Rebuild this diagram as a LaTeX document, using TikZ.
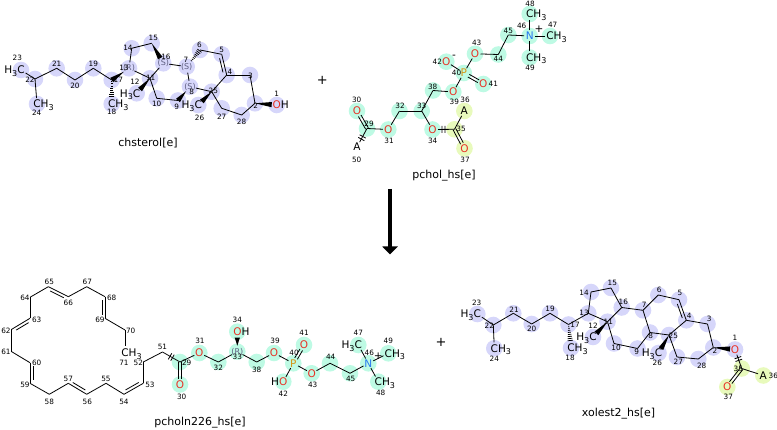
\documentclass[tikz,border=0pt]{standalone}
\usepackage{fontspec}
\setmainfont{DejaVu Sans}
\usetikzlibrary{calc,arrows.meta}
\definecolor{lav}{RGB}{214,214,250}
\definecolor{cyn}{RGB}{190,250,228}
\definecolor{ylg}{RGB}{232,250,188}
\definecolor{ored}{RGB}{232,48,36}
\definecolor{nblu}{RGB}{40,120,240}
\definecolor{porg}{RGB}{214,150,20}
\definecolor{stc}{RGB}{95,95,130}
\newcommand{\msub}[1]{\raisebox{-2.5pt}{\fontsize{8}{8}\selectfont #1}}
\newcommand{\mA}[3]{\coordinate (#1) at (#2,#3);}
\newcommand{\mC}[2]{\fill[#1] (#2) circle (8.3pt);}
\newcommand{\mB}[4]{\draw[bd,shorten <=#3pt,shorten >=#4pt] (#1) -- (#2);}
\newcommand{\mD}[4]{%
 \draw[bd,shorten <=#3pt,shorten >=#4pt] ($(#1)!1.5pt!90:(#2)$) -- ($(#2)!1.5pt!-90:(#1)$);
 \draw[bd,shorten <=#3pt,shorten >=#4pt] ($(#1)!1.5pt!-90:(#2)$) -- ($(#2)!1.5pt!90:(#1)$);}
\newcommand{\mDin}[3]{%
 \draw[bd] ($(#1)!0.16!(#2)!3pt!#3:(#2)$) -- ($(#2)!0.16!(#1)!3pt!#3:(#2)$);}
\newcommand{\mW}[4]{%
 \fill ($(#1)!#3pt!(#2)$) -- ($(#2)!#4pt!(#1)!2.6pt!90:(#1)$) -- ($(#2)!#4pt!(#1)!2.6pt!-90:(#1)$) -- cycle;}
\newcommand{\mHS}[4]{%
 \coordinate (hsA) at ($(#1)!#3pt!(#2)$);
 \coordinate (hsE) at ($(#2)!#4pt!(#1)$);
 \foreach \hh in {0.1,0.22,0.34,0.46,0.58,0.7,0.82,0.94}{%
  \pgfmathsetmacro{\ww}{0.3+2.5*\hh}%
  \draw[line width=0.75pt] ($(hsA)!\hh!(hsE)!\ww pt!90:(hsE)$) -- ($(hsA)!\hh!(hsE)!\ww pt!-90:(hsE)$);}}
\newcommand{\mBRK}[2]{%
 \draw[bd] ($(#1)!0.43!(#2)!3.5pt!90:(#2)$) -- ($(#1)!0.43!(#2)!3.5pt!-90:(#2)$);
 \draw[bd] ($(#1)!0.57!(#2)!3.5pt!90:(#2)$) -- ($(#1)!0.57!(#2)!3.5pt!-90:(#2)$);}
\newcommand{\mCH}[2]{\node[el,anchor=base west] (#1) at ($(#2)+(-3.8,3.9)$) {CH\msub{3}};}
\newcommand{\mHC}[2]{\node[el,anchor=base east] (#1) at ($(#2)+(3.8,3.9)$) {H\msub{3}C};}
\newcommand{\mOH}[2]{\node[el,anchor=base west] (#1) at ($(#2)+(-4.2,3.9)$) {\textcolor{ored}{O}H};}
\newcommand{\mHO}[2]{\node[el,anchor=base east] (#1) at ($(#2)+(4.2,3.9)$) {H\textcolor{ored}{O}};}
\newcommand{\mEL}[4]{\node[el,anchor=base,text=#3] (#1) at ($(#2)+(0,3.9)$) {#4};}
\newcommand{\mN}[4]{\node[num] (#1) at (#2,#3) {#4};}
\newcommand{\mST}[3]{\node[stl] (#1) at (#2) {#3};}
\begin{document}
\begin{tikzpicture}[x=1pt,y=-1pt,
  bd/.style={line width=0.8pt,black},
  el/.style={inner sep=0pt,font=\fontsize{10.5}{12}\selectfont},
  num/.style={inner sep=0pt,font=\fontsize{7.3}{8}\selectfont},
  stl/.style={inner sep=0pt,font=\fontsize{8}{9}\selectfont,text=stc},
  nm/.style={inner sep=0pt,font=\fontsize{11}{12}\selectfont}]
\useasboundingbox (0,0) rectangle (777,430);
% ================= chsterol =================
\mA{c23}{21}{70}\mA{c22}{35}{79}\mA{c24}{37}{104}\mA{c21}{56.7}{68.3}
\mA{c20}{75}{80}\mA{c19}{93.3}{68.3}\mA{c17}{111.7}{80}\mA{c18}{111.7}{104}
\mA{c13}{129}{68.3}\mA{c14}{131.7}{48.3}\mA{c15}{151.7}{43.3}\mA{c16}{163.3}{63.3}
\mA{c11}{150}{78.3}\mA{c12}{136.7}{93.3}\mA{c10}{156.7}{98.3}\mA{c9}{178}{100.5}
\mA{c8}{190}{86.7}\mA{c7}{186.7}{66.7}\mA{c6}{200}{50}\mA{c5}{221.7}{54.3}
\mA{c4}{226.7}{75}\mA{c25}{211.7}{91.7}\mA{c26}{198.3}{105}\mA{c27}{221.7}{108.3}
\mA{c28}{241.7}{115}\mA{c2}{255}{103.3}\mA{c3}{250}{75}\mA{c1}{276.7}{105}
\foreach \a in {c1,c2,c3,c4,c5,c6,c7,c8,c9,c10,c11,c12,c13,c14,c15,c16,c17,c18,c19,c20,c21,c22,c23,c24,c25,c26,c27,c28}{\mC{lav}{\a}}
% ================= xolest2 =================
\mA{x23}{477.3}{314}\mA{x22}{493.3}{325}\mA{x24}{494.3}{348.3}\mA{x21}{513.3}{313.3}
\mA{x20}{531.7}{324}\mA{x19}{550}{313.3}\mA{x17}{568.5}{324.5}\mA{x18}{571}{348}
\mA{x13}{588.3}{313.3}\mA{x14}{591}{292}\mA{x15}{611}{288}\mA{x16}{621.7}{307.5}
\mA{x11}{607.5}{321.7}\mA{x12}{593}{337}\mA{x10}{614}{343.5}\mA{x9}{637.5}{348.5}
\mA{x8}{650}{332.5}\mA{x7}{643}{310.3}\mA{x6}{658.3}{295}\mA{x5}{679}{299.7}
\mA{x4}{686.3}{320.3}\mA{x25}{669}{335}\mA{x26}{658.5}{353}\mA{x27}{677}{357}
\mA{x28}{698.3}{359}\mA{x2}{713.3}{347.5}\mA{x3}{707.5}{324}\mA{x1}{735}{349.5}
\mA{x35}{741.7}{368.5}\mA{x36}{763.3}{375.5}\mA{x37}{727.3}{387}
\foreach \a in {x1,x2,x3,x4,x5,x6,x7,x8,x9,x10,x11,x12,x13,x14,x15,x16,x17,x18,x19,x20,x21,x22,x23,x24,x25,x26,x27,x28}{\mC{lav}{\a}}
\foreach \a in {x35,x36,x37}{\mC{ylg}{\a}}
% ================= pchol =================
\mA{p30}{357}{111}\mA{p29}{367}{128.5}\mA{p50}{357}{147}\mA{p31}{388.3}{129.5}
\mA{p32}{399.5}{111}\mA{p33}{421.7}{111}\mA{p38}{433}{90.5}\mA{p39}{453.3}{92}
\mA{p40}{463.8}{73}\mA{p41}{483.3}{84}\mA{p42}{446.3}{61.7}\mA{p43}{475}{53.8}
\mA{p44}{498.3}{54.5}\mA{p45}{508.3}{35}\mA{p46}{529.7}{36}\mA{p47}{550}{36}
\mA{p48}{529.7}{14}\mA{p49}{529.7}{57.5}\mA{p34}{432.5}{129.5}\mA{p35}{454.5}{129.3}
\mA{p36}{464.3}{111}\mA{p37}{464.5}{148.3}
\foreach \a in {p29,p30,p31,p32,p33,p34,p38,p39,p40,p41,p42,p43,p44,p45,p46,p47,p48,p49}{\mC{cyn}{\a}}
\foreach \a in {p35,p36,p37}{\mC{ylg}{\a}}
% ================= pcholn226 =================
\mA{q65}{48.3}{286.7}\mA{q66}{68.3}{296.7}\mA{q67}{86.7}{286.7}\mA{q68}{105}{296.7}
\mA{q69}{105}{318.3}\mA{q70}{125}{330}\mA{q71}{125}{353}\mA{q64}{30}{297.3}
\mA{q63}{30}{318.3}\mA{q62}{11.7}{329.3}\mA{q61}{11.7}{351.7}\mA{q60}{30}{362.7}
\mA{q59}{30}{383.3}\mA{q58}{49.3}{394.3}\mA{q57}{68.3}{383.3}\mA{q56}{86.7}{394.3}
\mA{q55}{106}{383.3}\mA{q54}{124}{394.3}\mA{q53}{143.3}{383.3}\mA{q52}{143.3}{362}
\mA{q51}{162.5}{352}\mA{q29}{180}{362}\mA{q30}{180}{384.5}\mA{q31}{199.3}{353}
\mA{q32}{218.3}{362}\mA{q33}{237.3}{351.7}\mA{q34}{237.3}{331.7}\mA{q38}{256.7}{362}
\mA{q39}{274}{353}\mA{q40}{293.3}{363.3}\mA{q41}{304}{345}\mA{q42}{283.3}{381.7}
\mA{q43}{311.7}{373.3}\mA{q44}{330}{363.3}\mA{q45}{350}{373.3}\mA{q46}{368.3}{363.3}
\mA{q47}{358.3}{345}\mA{q48}{378.3}{381.7}\mA{q49}{388.3}{353.3}
\foreach \a in {q29,q30,q31,q32,q33,q34,q38,q39,q40,q41,q42,q43,q44,q45,q46,q47,q48,q49}{\mC{cyn}{\a}}
% ================= bonds: chsterol =================
\mB{c23}{c22}{5.5}{0}\mB{c22}{c24}{0}{6}\mB{c22}{c21}{0}{0}\mB{c21}{c20}{0}{0}
\mB{c20}{c19}{0}{0}\mB{c19}{c17}{0}{0}\mW{c13}{c17}{6}{0}\mHS{c17}{c18}{0}{6.5}
\mB{c13}{c14}{6}{0}\mB{c14}{c15}{0}{0}\mW{c15}{c16}{0}{6}\mB{c16}{c11}{6}{0}
\mB{c11}{c13}{0}{6}\mW{c11}{c12}{0}{5}\mB{c11}{c10}{0}{0}\mB{c10}{c9}{0}{0}
\mW{c8}{c9}{6}{0}\mB{c8}{c7}{6}{6}\mB{c7}{c16}{6}{6}\mHS{c7}{c6}{6}{0}
\mB{c6}{c5}{0}{0}\mB{c5}{c4}{0}{0}\mDin{c5}{c4}{-90}\mB{c4}{c25}{0}{0}
\mB{c25}{c8}{0}{6}\mW{c25}{c26}{0}{5}\mB{c25}{c27}{0}{0}\mB{c27}{c28}{0}{0}
\mB{c28}{c2}{0}{0}\mB{c2}{c3}{0}{0}\mB{c3}{c4}{0}{0}\mW{c2}{c1}{0}{5}
% ================= bonds: xolest2 =================
\mB{x23}{x22}{5.5}{0}\mB{x22}{x24}{0}{6}\mB{x22}{x21}{0}{0}\mB{x21}{x20}{0}{0}
\mB{x20}{x19}{0}{0}\mB{x19}{x17}{0}{0}\mB{x17}{x13}{0}{0}\mHS{x17}{x18}{0}{6.5}
\mB{x13}{x14}{0}{0}\mB{x14}{x15}{0}{0}\mB{x15}{x16}{0}{0}\mB{x16}{x11}{0}{0}
\mB{x11}{x13}{0}{0}\mW{x11}{x12}{0}{5}\mB{x11}{x10}{0}{0}\mB{x10}{x9}{0}{0}
\mB{x9}{x8}{0}{0}\mB{x8}{x7}{0}{0}\mB{x7}{x16}{0}{0}\mB{x7}{x6}{0}{0}
\mB{x6}{x5}{0}{0}\mB{x5}{x4}{0}{0}\mDin{x5}{x4}{-90}\mB{x4}{x25}{0}{0}
\mB{x25}{x8}{0}{0}\mW{x25}{x26}{0}{5}\mB{x25}{x27}{0}{0}\mB{x27}{x28}{0}{0}
\mB{x28}{x2}{0}{0}\mB{x2}{x3}{0}{0}\mB{x3}{x4}{0}{0}\mW{x2}{x1}{0}{5}
\mB{x1}{x35}{5.5}{0}\mBRK{x1}{x35}\mB{x35}{x36}{0}{5.5}\mD{x35}{x37}{0}{5.5}
% ================= bonds: pchol =================
\mD{p29}{p30}{0}{5.5}\mB{p29}{p50}{0}{5.5}\mBRK{p29}{p50}\mB{p29}{p31}{0}{5.5}
\mB{p31}{p32}{5.5}{0}\mB{p32}{p33}{0}{0}\mB{p33}{p38}{0}{0}\mB{p38}{p39}{0}{5.5}
\mB{p39}{p40}{5.5}{5.5}\mD{p40}{p41}{5.5}{5.5}\mB{p40}{p42}{5.5}{5.5}\mB{p40}{p43}{5.5}{5.5}
\mB{p43}{p44}{5.5}{0}\mB{p44}{p45}{0}{0}\mB{p45}{p46}{0}{5.5}\mB{p46}{p47}{5.5}{5.5}
\mB{p46}{p48}{5.5}{6.5}\mB{p46}{p49}{5.5}{6.5}\mB{p33}{p34}{0}{5.5}
\mB{p34}{p35}{5.5}{0}\mBRK{p34}{p35}\mB{p35}{p36}{0}{5.5}\mD{p35}{p37}{0}{5.5}
% ================= bonds: pcholn226 =================
\mB{q64}{q65}{0}{0}\mB{q65}{q66}{0}{0}\mDin{q65}{q66}{-90}\mB{q66}{q67}{0}{0}
\mB{q67}{q68}{0}{0}\mB{q68}{q69}{0}{0}\mDin{q68}{q69}{-90}\mB{q69}{q70}{0}{0}
\mB{q70}{q71}{0}{6.5}\mB{q64}{q63}{0}{0}\mB{q63}{q62}{0}{0}\mDin{q63}{q62}{90}
\mB{q62}{q61}{0}{0}\mB{q61}{q60}{0}{0}\mB{q60}{q59}{0}{0}\mDin{q60}{q59}{90}
\mB{q59}{q58}{0}{0}\mB{q58}{q57}{0}{0}\mB{q57}{q56}{0}{0}\mDin{q57}{q56}{90}
\mB{q56}{q55}{0}{0}\mB{q55}{q54}{0}{0}\mB{q54}{q53}{0}{0}\mDin{q54}{q53}{90}
\mB{q53}{q52}{0}{0}\mB{q52}{q51}{0}{0}\mB{q51}{q29}{0}{0}\mBRK{q51}{q29}
\mD{q29}{q30}{0}{5.5}\mB{q29}{q31}{0}{5.5}\mB{q31}{q32}{5.5}{0}\mB{q32}{q33}{0}{6}
\mW{q33}{q34}{6}{6}\mB{q33}{q38}{6}{0}\mB{q38}{q39}{0}{5.5}\mB{q39}{q40}{5.5}{5.5}
\mD{q40}{q41}{5.5}{5.5}\mB{q40}{q42}{5.5}{5.5}\mB{q40}{q43}{5.5}{5.5}\mB{q43}{q44}{5.5}{0}
\mB{q44}{q45}{0}{0}\mB{q45}{q46}{0}{5.5}\mB{q46}{q47}{5.5}{5.5}\mB{q46}{q48}{5.5}{6}
\mB{q46}{q49}{5.5}{5.5}
% ================= atom labels =================
\mHC{Lc23}{c23}\mCH{Lc24}{c24}\mCH{Lc18}{c18}\mHC{Lc12}{c12}\mHC{Lc26}{c26}\mOH{Lc1}{c1}
\mST{Sc13}{c13}{(R)}\mST{Sc16}{c16}{(S)}\mST{Sc7}{c7}{(S)}\mST{Sc8}{c8}{(S)}
\mHC{Lx23}{x23}\mCH{Lx24}{x24}\mCH{Lx18}{x18}\mHC{Lx12}{x12}\mHC{Lx26}{x26}
\mEL{Lx1}{x1}{ored}{O}\mEL{Lx36}{x36}{black}{A}\mEL{Lx37}{x37}{ored}{O}
\mEL{Lp30}{p30}{ored}{O}\mEL{Lp50}{p50}{black}{A}\mEL{Lp31}{p31}{ored}{O}
\mEL{Lp39}{p39}{ored}{O}\mEL{Lp40}{p40}{porg}{P}\mEL{Lp41}{p41}{ored}{O}
\mEL{Lp42}{p42}{ored}{O}\mEL{Lp43}{p43}{ored}{O}\mEL{Lp46}{p46}{nblu}{N}
\mCH{Lp47}{p47}\mCH{Lp48}{p48}\mCH{Lp49}{p49}\mEL{Lp34}{p34}{ored}{O}
\mEL{Lp36}{p36}{black}{A}\mEL{Lp37}{p37}{ored}{O}
\node[el] (chg1) at (454,56.5) {-};
\node[el] (chg2) at (539,29.3) {+};
\mCH{Lq71}{q71}\mEL{Lq30}{q30}{ored}{O}\mEL{Lq31}{q31}{ored}{O}\mOH{Lq34}{q34}
\mEL{Lq39}{q39}{ored}{O}\mEL{Lq40}{q40}{porg}{P}\mEL{Lq41}{q41}{ored}{O}
\mHO{Lq42}{q42}\mEL{Lq43}{q43}{ored}{O}\mEL{Lq46}{q46}{nblu}{N}
\mHC{Lq47}{q47}\mCH{Lq48}{q48}\mCH{Lq49}{q49}\mST{Sq33}{q33}{(R)}
\node[el] (chg3) at (378.3,356.7) {+};
% ================= numbers: chsterol =================
\mN{Nc23}{17.3}{58.3}{23}\mN{Nc22}{30}{80}{22}\mN{Nc24}{36.7}{112.3}{24}\mN{Nc21}{56.7}{64}{21}
\mN{Nc20}{75}{85.5}{20}\mN{Nc19}{93.3}{64}{19}\mN{Nc17}{118.3}{80}{17}\mN{Nc18}{111.7}{112.3}{18}
\mN{Nc13}{124}{68.3}{13}\mN{Nc14}{128}{48}{14}\mN{Nc15}{153.3}{38}{15}\mN{Nc16}{166}{57.3}{16}
\mN{Nc11}{150.7}{78}{11}\mN{Nc12}{135}{81.7}{12}\mN{Nc10}{156.7}{104}{10}\mN{Nc9}{176.7}{107}{9}
\mN{Nc8}{191.7}{91.7}{8}\mN{Nc7}{186}{60}{7}\mN{Nc6}{199.5}{45}{6}\mN{Nc5}{221.7}{50}{5}
\mN{Nc4}{230}{71.5}{4}\mN{Nc25}{213.3}{91}{25}\mN{Nc26}{199.5}{118.3}{26}\mN{Nc27}{221.7}{117}{27}
\mN{Nc28}{241.5}{122}{28}\mN{Nc2}{255.7}{105.7}{2}\mN{Nc3}{250.5}{75.5}{3}\mN{Nc1}{276.7}{94}{1}
% ================= numbers: xolest2 =================
\mN{Nx23}{476.7}{303.3}{23}\mN{Nx22}{489.3}{326}{22}\mN{Nx24}{494.3}{358.3}{24}\mN{Nx21}{514}{309.3}{21}
\mN{Nx20}{531.7}{329.3}{20}\mN{Nx19}{550}{309.3}{19}\mN{Nx17}{575}{325}{17}\mN{Nx18}{570}{358.3}{18}
\mN{Nx13}{584}{313.3}{13}\mN{Nx14}{584}{292.7}{14}\mN{Nx15}{612.3}{283.3}{15}\mN{Nx16}{623.3}{301.7}{16}
\mN{Nx11}{608.3}{321.7}{11}\mN{Nx12}{593}{326}{12}\mN{Nx10}{616}{348.3}{10}\mN{Nx9}{636.7}{351.7}{9}
\mN{Nx8}{650.7}{336}{8}\mN{Nx7}{644.3}{305}{7}\mN{Nx6}{659.3}{290}{6}\mN{Nx5}{680}{293.3}{5}
\mN{Nx4}{689.3}{316}{4}\mN{Nx25}{673.3}{336}{25}\mN{Nx26}{657.3}{363.3}{26}\mN{Nx27}{678.3}{361.7}{27}
\mN{Nx28}{701.7}{366}{28}\mN{Nx2}{715}{350.7}{2}\mN{Nx3}{709.3}{319.3}{3}\mN{Nx1}{735}{338.3}{1}
\mN{Nx35}{738.3}{369}{35}\mN{Nx36}{773.3}{375.5}{36}\mN{Nx37}{728.3}{396.7}{37}
% ================= numbers: pchol =================
\mN{Np30}{356.7}{100}{30}\mN{Np29}{369}{124}{29}\mN{Np31}{389}{140.5}{31}\mN{Np32}{400}{106}{32}
\mN{Np33}{421.7}{105.5}{33}\mN{Np38}{432.7}{86.5}{38}\mN{Np39}{454.3}{101.5}{39}\mN{Np36}{465}{100}{36}
\mN{Np35}{461}{129.3}{35}\mN{Np34}{432.7}{140.5}{34}\mN{Np37}{465}{159.5}{37}\mN{Np50}{356.7}{159.5}{50}
\mN{Np40}{456.5}{73}{40}\mN{Np41}{493.3}{84}{41}\mN{Np42}{437.3}{61.7}{42}\mN{Np43}{476.7}{43.3}{43}
\mN{Np44}{498.3}{59.3}{44}\mN{Np45}{508.3}{30.7}{45}\mN{Np46}{521.7}{26}{46}\mN{Np47}{552.7}{25}{47}
\mN{Np48}{530}{3.5}{48}\mN{Np49}{530}{68.3}{49}
% ================= numbers: pcholn226 =================
\mN{Nq65}{49.3}{281.7}{65}\mN{Nq66}{68.3}{302.7}{66}\mN{Nq67}{87.3}{281.7}{67}\mN{Nq68}{111.7}{298.3}{68}
\mN{Nq69}{100}{320}{69}\mN{Nq70}{130.7}{330.7}{70}\mN{Nq71}{124}{363.3}{71}\mN{Nq64}{25}{298.3}{64}
\mN{Nq63}{36.7}{320}{63}\mN{Nq62}{6}{330.7}{62}\mN{Nq61}{6}{352.3}{61}\mN{Nq60}{36.7}{363.3}{60}
\mN{Nq59}{25}{385.3}{59}\mN{Nq58}{49.3}{401.7}{58}\mN{Nq57}{68.3}{379.3}{57}\mN{Nq56}{87.3}{401.7}{56}
\mN{Nq55}{106}{379.3}{55}\mN{Nq54}{124}{401.7}{54}\mN{Nq53}{150}{385.3}{53}\mN{Nq52}{138.3}{363.3}{52}
\mN{Nq51}{162.5}{346.7}{51}\mN{Nq29}{186.7}{363.3}{29}\mN{Nq30}{181.7}{396.7}{30}\mN{Nq31}{200}{340.7}{31}
\mN{Nq32}{218.3}{368.3}{32}\mN{Nq33}{237.3}{357.3}{33}\mN{Nq34}{237.3}{320}{34}\mN{Nq38}{256.7}{370}{38}
\mN{Nq39}{275}{340.7}{39}\mN{Nq40}{294}{353.3}{40}\mN{Nq41}{304}{333.3}{41}\mN{Nq42}{283.3}{394}{42}
\mN{Nq43}{312.7}{385}{43}\mN{Nq44}{330.7}{356.7}{44}\mN{Nq45}{350.7}{379.3}{45}\mN{Nq46}{369.3}{352.7}{46}
\mN{Nq47}{358.3}{333.3}{47}\mN{Nq48}{380.7}{393.3}{48}\mN{Nq49}{388.3}{340.7}{49}
% ================= names, plus signs, arrow =================
\node[nm] (name1) at (148,143) {chsterol[e]};
\node[nm] (name2) at (444,176) {pchol\_hs[e]};
\node[nm] (name3) at (200,423) {pcholn226\_hs[e]};
\node[nm] (name4) at (618.5,414) {xolest2\_hs[e]};
\node[inner sep=0pt,font=\fontsize{13}{14}\selectfont] (plus1) at (322.3,80.7) {+};
\node[inner sep=0pt,font=\fontsize{13}{14}\selectfont] (plus2) at (441,342) {+};
\coordinate (arS) at (390,189);
\coordinate (arE) at (390,254.5);
\draw[line width=4pt,-{Triangle[length=8pt,width=15pt]}] (arS) -- (arE);
\end{tikzpicture}
\end{document}
